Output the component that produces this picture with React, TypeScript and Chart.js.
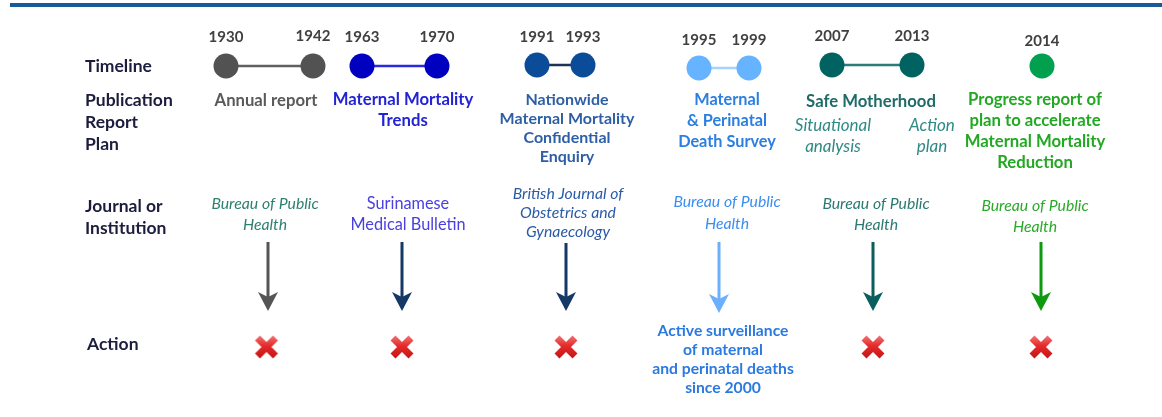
import React, { useEffect, useRef } from "react";
import { Chart, registerables } from "chart.js";
Chart.register(...registerables);

// ---------- data ----------
const rowLabels = [["Timeline"], ["Publication", "Report", "Plan"], ["Journal or", "Institution"], ["Action"]];
const startYears = ["1930", "1963", "1991", "1995", "2007", "2014"];
const endYears = ["1942", "1970", "1993", "1999", "2013", ""];
const publications = [
  ["Annual report"],
  ["Maternal Mortality", "Trends"],
  ["Nationwide", "Maternal Mortality", "Confidential", "Enquiry"],
  ["Maternal", "& Perinatal", "Death Survey"],
  ["Safe Motherhood"],
  ["Progress report of", "plan to accelerate", "Maternal Mortality", "Reduction"],
];
const planStages = [["Situational", "analysis"], ["Action", "plan"]];
const journals = [
  ["Bureau of Public", "Health"],
  ["Surinamese", "Medical Bulletin"],
  ["British Journal of", "Obstetrics and", "Gynaecology"],
  ["Bureau of Public", "Health"],
  ["Bureau of Public", "Health"],
  ["Bureau of Public", "Health"],
];
const actionNotes = [[], [], [], ["Active surveillance", "of maternal", "and perinatal deaths", "since 2000"], [], []];

// ---------- styles / layout ----------
const dotColors = ["#525252", "#0000c0", "#0b4c98", "#66b3ff", "#006361", "#00a04e"];
const linkColors = ["#606060", "#2a2ae0", "#1c3556", "#a6d2ff", "#2e7a78", "#00a04e"];
const titleColors = ["#5a5a5a", "#2323d6", "#2d5ea6", "#2c7fe0", "#1e6b67", "#22a822"];
const journalColors = ["#2f8070", "#4a40e0", "#2a5aa8", "#3b8ef0", "#2b7a72", "#2aaa2a"];
const arrowColors = ["#555555", "#153966", "#153966", "#6ab0ff", "#0b5e5e", "#0e9a0e"];
const titleSizes = [16.7, 16.7, 16, 16.3, 16.7, 16.7];
const stageColor = "#2f8a85";
const actionColor = "#2a7ae0";
const labelColor = "#1c1c3c";
const yearColor = "#404040";

const cols = [
  { a: 226, b: 313, dotY: 66, yearY: 37, pub: 266, pubY: 101, pubGap: 21, jour: 265, jourY: 204, jourGap: 21, arrow: 268, arrowTop: 242, head: 301 },
  { a: 362, b: 437, dotY: 66, yearY: 37, pub: 403, pubY: 100, pubGap: 21, jour: 408, jourY: 204, jourGap: 21, arrow: 402, arrowTop: 242, head: 301 },
  { a: 537, b: 583, dotY: 65, yearY: 37, pub: 567, pubY: 100, pubGap: 19, jour: 568, jourY: 194, jourGap: 19, arrow: 566, arrowTop: 243, head: 301 },
  { a: 699, b: 749, dotY: 68, yearY: 40, pub: 727, pubY: 100, pubGap: 21, jour: 727, jourY: 202, jourGap: 22, arrow: 719, arrowTop: 242, head: 303 },
  { a: 832, b: 912, dotY: 65, yearY: 36, pub: 871, pubY: 102, pubGap: 21, jour: 876, jourY: 204, jourGap: 21, arrow: 873, arrowTop: 242, head: 301 },
  { a: 1042, b: 1042, dotY: 66, yearY: 41, pub: 1035, pubY: 100, pubGap: 21, jour: 1035, jourY: 206, jourGap: 21, arrow: 1041, arrowTop: 242, head: 301 },
];
const stageX = [833, 932];
const stageY = 126;
const actionX = 723;
const rowLabelX = 85;
const rowLabelY = [[66], [100, 122, 144], [206, 228], [344]];
const crossY = 347;
const FONT = "Lato";

function arrowHead(color: string) {
  const c = document.createElement("canvas");
  c.width = 22;
  c.height = 20;
  const g = c.getContext("2d")!;
  g.fillStyle = color;
  g.beginPath();
  g.moveTo(11, 20);
  g.lineTo(1, 1);
  g.lineTo(11, 6);
  g.lineTo(21, 1);
  g.closePath();
  g.fill();
  return c;
}

function crossMark() {
  const c = document.createElement("canvas");
  c.width = 26;
  c.height = 26;
  const g = c.getContext("2d")!;
  const grad = g.createLinearGradient(0, 2, 0, 24);
  grad.addColorStop(0, "#f27070");
  grad.addColorStop(0.45, "#e42a2a");
  grad.addColorStop(1, "#c81414");
  g.strokeStyle = grad;
  g.lineWidth = 7;
  g.lineCap = "butt";
  g.beginPath();
  g.moveTo(4, 4);
  g.lineTo(22, 22);
  g.moveTo(22, 4);
  g.lineTo(4, 22);
  g.stroke();
  return c;
}

export default function App() {
  const ref = useRef<HTMLCanvasElement>(null);
  useEffect(() => {
    if (!ref.current) return;
    const datasets: any[] = [];
    startYears.forEach((y0, i) => {
      const c = cols[i];
      const pts = endYears[i] ? [{ x: c.a, y: c.dotY }, { x: c.b, y: c.dotY }] : [{ x: c.a, y: c.dotY }];
      datasets.push({
        data: pts,
        showLine: true,
        borderColor: linkColors[i],
        borderWidth: 2.5,
        pointRadius: 12.5,
        pointBackgroundColor: dotColors[i],
        pointBorderWidth: 0,
        pointHoverRadius: 12.5,
      });
      const head = arrowHead(arrowColors[i]);
      datasets.push({
        data: [{ x: c.arrow, y: c.arrowTop }, { x: c.arrow, y: c.head }],
        showLine: true,
        borderColor: arrowColors[i],
        borderWidth: 3,
        pointRadius: [0, 10],
        pointHoverRadius: [0, 10],
        pointStyle: [false, head],
        pointBorderWidth: 0,
      });
    });
    const cross = crossMark();
    datasets.push({
      data: cols.map((c, i) => (actionNotes[i].length ? null : { x: c.arrow - (i === 0 ? 1.5 : 0), y: crossY })).filter(Boolean),
      pointStyle: cross,
      pointRadius: 12,
      pointHoverRadius: 12,
      pointBorderWidth: 0,
    });

    const textPlugin = {
      id: "texts",
      beforeDatasetsDraw(chart: any) {
        const ctx = chart.ctx;
        ctx.save();
        ctx.fillStyle = "#1a5a96";
        ctx.fillRect(10, 3, 1152, 4);
        ctx.restore();
      },
      afterDatasetsDraw(chart: any) {
        const ctx = chart.ctx;
        const X = (v: number) => chart.scales.x.getPixelForValue(v);
        const Y = (v: number) => chart.scales.y.getPixelForValue(v);
        ctx.save();
        ctx.textBaseline = "middle";
        const txt = (s: string, x: number, y: number, font: string, color: string, align = "center") => {
          ctx.font = font;
          ctx.fillStyle = color;
          ctx.textAlign = align;
          ctx.fillText(s, X(x), Y(y));
        };
        rowLabels.forEach((lines, r) =>
          lines.forEach((s, k) => txt(s, rowLabelX + (r === 3 ? 2 : 0), rowLabelY[r][k], `bold 17.5px ${FONT}`, labelColor, "left"))
        );
        cols.forEach((c, i) => {
          txt(startYears[i], c.a, c.yearY, `bold 15px ${FONT}`, yearColor);
          if (endYears[i]) txt(endYears[i], c.b, c.yearY - (i === 0 ? 1 : 0), `bold 15px ${FONT}`, yearColor);
          publications[i].forEach((s, k) => txt(s, c.pub, c.pubY + k * c.pubGap, `bold ${titleSizes[i]}px ${FONT}`, titleColors[i]));
          journals[i].forEach((s, k) =>
            txt(s, c.jour, c.jourY + k * c.jourGap, i === 1 ? `16.3px ${FONT}` : `italic 15.8px ${FONT}`, journalColors[i])
          );
          actionNotes[i].forEach((s, k) => txt(s, actionX, 331 + k * 19, `bold 15.7px ${FONT}`, actionColor));
        });
        planStages.forEach((lines, j) =>
          lines.forEach((s, k) => txt(s, stageX[j], stageY + k * 21, `italic 17px ${FONT}`, stageColor))
        );
        ctx.restore();
      },
    };

    const chart = new Chart(ref.current, {
      type: "scatter",
      data: { datasets },
      options: {
        responsive: false,
        animation: false,
        events: [],
        layout: { padding: 0, autoPadding: false },
        plugins: { legend: { display: false }, tooltip: { enabled: false } },
        scales: {
          x: { type: "linear", min: 0, max: 1162, display: false },
          y: { type: "linear", min: 0, max: 417, reverse: true, display: false },
        },
        datasets: { scatter: { clip: false } } as any,
      },
      plugins: [textPlugin],
    });
    return () => chart.destroy();
  }, []);
  return (
    <div style={{ position: "absolute", left: 0, top: 0, width: 1162, height: 417, background: "#fff" }}>
      <canvas ref={ref} width={1162} height={417} />
    </div>
  );
}
